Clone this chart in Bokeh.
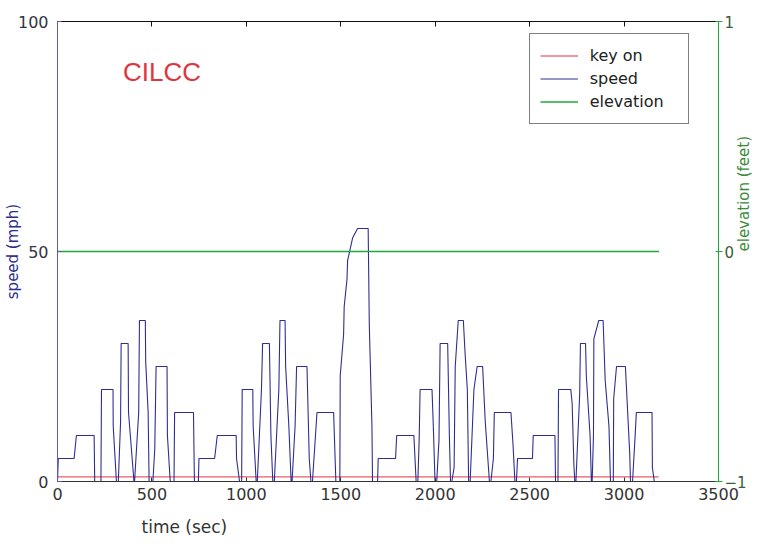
import math
from bokeh.plotting import figure
from bokeh.models import Range1d, LinearAxis, FixedTicker, Legend, LegendItem, Label, Title
from bokeh.embed import file_html
from bokeh.resources import INLINE

# ---- data ----
time_sec = [0, 4, 88, 100, 194, 197,
            230, 233, 294, 295, 312,
            322, 334, 337, 374, 376, 405,
            408, 430, 434, 465, 467, 480, 485,
            505, 515, 522, 580, 582, 597,
            617, 620, 720, 725,
            746, 749, 832, 846, 946, 948, 964,
            975, 978, 1034, 1036, 1052,
            1058, 1080, 1086, 1122, 1130, 1140,
            1148, 1172, 1178, 1205, 1208, 1225, 1237,
            1242, 1258, 1266, 1321, 1333, 1342,
            1350, 1374, 1462, 1466, 1474,
            1495, 1497, 1515, 1518, 1533, 1536, 1563, 1589, 1645, 1651, 1665, 1668,
            1695, 1698, 1790, 1796, 1887, 1899,
            1908, 1915, 1920, 1983, 1990, 1999,
            2008, 2020, 2026, 2066, 2075, 2081,
            2088, 2100, 2106, 2122, 2149, 2158, 2170, 2177,
            2185, 2205, 2222, 2251, 2265, 2287,
            2295, 2308, 2313, 2401, 2412, 2422,
            2430, 2436, 2515, 2519, 2634, 2637,
            2650, 2653, 2718, 2725, 2734, 2739,
            2745, 2765, 2769, 2796, 2800, 2820, 2827,
            2831, 2838, 2840, 2866, 2889, 2900, 2920, 2928,
            2943, 2945, 2960, 3007, 3030, 3034,
            3045, 3060, 3065, 3148, 3150, 3160]
speed_mph = [0, 5, 5, 10, 10, 0,
             0, 20, 20, 12, 0,
             0, 13, 30, 30, 15, 0,
             0, 15, 35, 35, 26, 15, 0,
             0, 7, 25, 25, 10, 0,
             0, 15, 15, 0,
             0, 5, 5, 10, 10, 5, 0,
             0, 20, 20, 12, 0,
             0, 20, 30, 30, 10, 0,
             0, 20, 35, 35, 25, 12, 0,
             0, 12, 25, 25, 5, 0,
             0, 15, 15, 10, 0,
             0, 23, 32, 38, 44, 48, 53, 55, 55, 34, 12, 0,
             0, 5, 5, 10, 10, 0,
             0, 9, 20, 20, 12, 0,
             0, 9, 30, 30, 10, 0,
             0, 3, 25, 35, 35, 28, 20, 0,
             0, 20, 25, 25, 13, 0,
             0, 5, 15, 15, 8, 0,
             0, 5, 5, 10, 10, 0,
             0, 20, 20, 17, 4, 0,
             0, 19, 30, 30, 23, 10, 0,
             0, 10, 31, 35, 35, 22, 12, 0,
             0, 18, 25, 25, 6, 0,
             0, 11, 15, 15, 3, 0]

key_time = [0, 3183]
key_on = [1, 1]
elev_time = [0, 3185]
elevation_ft = [0, 0]

x_ticks = [0, 500, 1000, 1500, 2000, 2500, 3000, 3500]
speed_ticks = [0, 50, 100]
elev_ticks = [-1, 0, 1]

FONT = "DejaVu Sans"
BLUE = "#2e2e92"
GREEN = "#22a838"
RED = "#e0353f"

p = figure(width=764, height=550, output_backend="svg", toolbar_location=None,
           x_range=Range1d(0, 3500), y_range=Range1d(0, 100),
           min_border_left=56, min_border_right=45, min_border_top=21, min_border_bottom=69)
p.extra_y_ranges = {"elev": Range1d(-1, 1)}
p.xgrid.visible = False
p.ygrid.visible = False
p.outline_line_color = None
p.background_fill_color = "white"
p.border_fill_color = "white"

# bottom axis
xa = p.xaxis[0]
xa.ticker = FixedTicker(ticks=x_ticks)
xa.major_tick_in = 4
xa.major_tick_out = 0
xa.minor_tick_line_color = None
xa.axis_line_color = "#333333"
xa.major_tick_line_color = "#333333"
xa.major_label_text_font = FONT
xa.major_label_text_font_size = "16px"
xa.major_label_text_color = "#333333"
xa.major_label_standoff = 6

# left axis
ya = p.yaxis[0]
ya.ticker = FixedTicker(ticks=speed_ticks)
ya.major_tick_in = 4
ya.major_tick_out = 0
ya.minor_tick_line_color = None
ya.axis_line_color = "#5b5bb0"
ya.major_tick_line_color = "#5b5bb0"
ya.major_label_text_font = FONT
ya.major_label_text_font_size = "16px"
ya.major_label_text_color = "#333344"
ya.major_label_standoff = 9
ya.axis_label = "speed (mph)"
ya.axis_label_text_font = FONT
ya.axis_label_text_font_size = "15px"
ya.axis_label_text_font_style = "normal"
ya.axis_label_text_color = "#2e2e8a"
ya.axis_label_standoff = -7

# top axis (ticks only)
top = LinearAxis(ticker=FixedTicker(ticks=x_ticks), major_tick_in=5, major_tick_out=0,
                 minor_tick_line_color=None, axis_line_color="#111111",
                 major_tick_line_color="#111111", major_label_text_color=None,
                 major_label_standoff=0)
p.add_layout(top, "above")

# right axis (elevation)
ra = LinearAxis(y_range_name="elev", ticker=FixedTicker(ticks=elev_ticks),
                major_tick_in=3, major_tick_out=4, minor_tick_line_color=None,
                axis_line_color=GREEN, major_tick_line_color=GREEN,
                major_label_text_font=FONT, major_label_text_font_size="15px",
                major_label_text_color="#3c5c3c", major_label_standoff=2,
                axis_label="elevation (feet)", axis_label_text_font=FONT,
                axis_label_text_font_size="15px", axis_label_text_font_style="normal",
                axis_label_text_color="#3a8a3a", axis_label_standoff=-6)
if "axis_label_orientation" in LinearAxis.properties():
    ra.axis_label_orientation = math.pi / 2
p.add_layout(ra, "right")

r_key = p.line(key_time, key_on, line_color=RED, line_width=1)
r_speed = p.line(time_sec, speed_mph, line_color=BLUE, line_width=1.1)
r_elev = p.line(elev_time, elevation_ft, y_range_name="elev", line_color=GREEN, line_width=1.5)

legend = Legend(items=[LegendItem(label="key on", renderers=[r_key]),
                       LegendItem(label="speed", renderers=[r_speed]),
                       LegendItem(label="elevation", renderers=[r_elev])],
                location=(471.7, 356.7), padding=10, margin=0, spacing=0,
                glyph_width=38, glyph_height=23, label_height=23, label_width=88,
                label_standoff=12,
                label_text_font=FONT, label_text_font_size="16px", label_text_color="#222222",
                border_line_color="black", border_line_width=1,
                background_fill_color="white", background_fill_alpha=1)
p.add_layout(legend, "center")

p.add_layout(Label(x=347, y=89, text="CILCC", text_color=RED, text_font="Liberation Sans",
                   text_font_size="26px", text_baseline="middle", text_align="left"))

p.add_layout(Title(text="time (sec)", align="left", offset=84, standoff=24,
                   text_font=FONT, text_font_size="17px", text_font_style="normal",
                   text_color="#333333"), "below")

open("out.html", "w").write(file_html(p, INLINE))
